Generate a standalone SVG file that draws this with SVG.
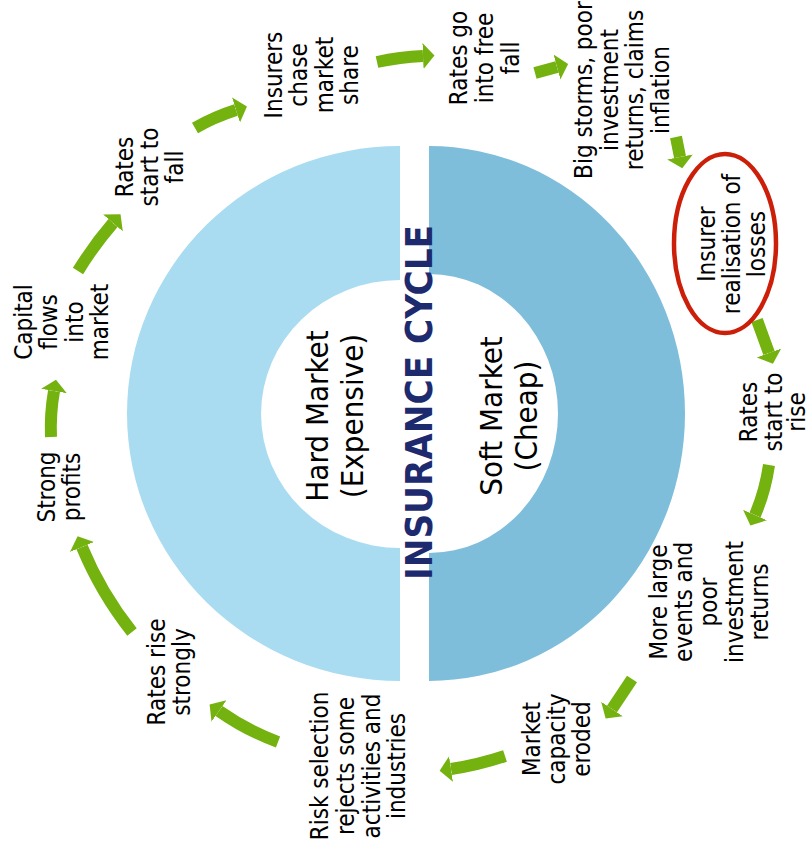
<svg xmlns="http://www.w3.org/2000/svg" width="810" height="848" viewBox="0 0 810 848">
<style>
.t{font-family:"DejaVu Sans Condensed","Liberation Sans",sans-serif;font-size:24px;fill:#000;text-anchor:middle}
.c{font-family:"DejaVu Sans Condensed","Liberation Sans",sans-serif;font-size:31px;fill:#000;text-anchor:middle}
.ttl{font-family:"DejaVu Sans Condensed","Liberation Sans",sans-serif;font-size:38px;font-weight:bold;fill:#1E2A6E;text-anchor:middle}
.a{fill:none;stroke:#74B20F;stroke-width:12;marker-end:url(#h)}
</style>
<defs>
<marker id="h" markerUnits="userSpaceOnUse" markerWidth="12" markerHeight="28" refX="0" refY="14" orient="auto">
<path d="M0,1 L11.5,14 L0,27 Z" fill="#74B20F"/>
</marker>
</defs>
<rect width="810" height="848" fill="#fff"/>
<g id="hard-half"><path d="M400,146 A273,267.5 0 0 0 400,681 L400,548 A139,134 0 0 1 400,280 Z" fill="#A9DCF1"/></g>
<g id="soft-half"><path d="M429,146 A256,267.5 0 0 1 429,681 L429,553 A129,139.5 0 0 0 429,274 Z" fill="#7FBEDB"/></g>
<g id="title"><text class="ttl" transform="translate(432,402.5) rotate(-90)" textLength="355" lengthAdjust="spacingAndGlyphs">INSURANCE CYCLE</text></g>
<g id="hard-label"><text class="c" transform="translate(328,416) rotate(-90)"><tspan x="0" y="0">Hard Market</tspan><tspan x="0" y="35">(Expensive)</tspan></text></g>
<g id="soft-label"><text class="c" transform="translate(502,416) rotate(-90)"><tspan x="0" y="0">Soft Market</tspan><tspan x="0" y="35">(Cheap)</tspan></text></g>
<g id="connectors">
<path class="a" d="M51,437 Q50,414 54,391"/>
<path class="a" d="M78,271 Q94,245 113,223"/>
<path class="a" d="M195,128 Q214,117 236,110"/>
<path class="a" d="M377,62 Q400,57 423,56"/>
<path class="a" d="M535,73 L557,67"/>
<path class="a" d="M676,137 L680,157"/>
<path class="a" d="M757,320 L769,353"/>
<path class="a" d="M769,465 Q765,492 755,515"/>
<path class="a" d="M632,679 L612,709"/>
<path class="a" d="M505,756 Q478,765 451,769"/>
<path class="a" d="M278,742 Q246,730 219,711"/>
<path class="a" d="M132,632 Q101,593 82,547"/>
</g>
<g id="n-capital"><text class="t" transform="translate(32,322) rotate(-90)"><tspan x="0" y="0">Capital</tspan><tspan x="0" y="25">flows</tspan><tspan x="0" y="50.5">into</tspan><tspan x="0" y="76">market</tspan></text></g>
<g id="n-rates-fall"><text class="t" transform="translate(133,167) rotate(-90)"><tspan x="0" y="0">Rates</tspan><tspan x="0" y="25">start to</tspan><tspan x="0" y="50">fall</tspan></text></g>
<g id="n-insurers-chase"><text class="t" transform="translate(282,75) rotate(-90)"><tspan x="0" y="0">Insurers</tspan><tspan x="0" y="25">chase</tspan><tspan x="0" y="50.5">market</tspan><tspan x="0" y="76">share</tspan></text></g>
<g id="n-free-fall"><text class="t" transform="translate(467,58) rotate(-90)"><tspan x="0" y="0">Rates go</tspan><tspan x="0" y="26">into free</tspan><tspan x="0" y="52">fall</tspan></text></g>
<g id="n-storms"><text class="t" transform="translate(592,90) rotate(-90)"><tspan x="0" y="0">Big storms, poor</tspan><tspan x="0" y="26">investment</tspan><tspan x="0" y="51">returns, claims</tspan><tspan x="0" y="77">inflation</tspan></text></g>
<g id="n-losses"><ellipse cx="725" cy="243.5" rx="51" ry="89.5" fill="none" stroke="#CC1F0A" stroke-width="4.5"/><text class="t" transform="translate(715,244) rotate(-90)"><tspan x="0" y="0">Insurer</tspan><tspan x="0" y="25">realisation of</tspan><tspan x="0" y="50">losses</tspan></text></g>
<g id="n-rates-rise"><text class="t" transform="translate(757,412) rotate(-90)"><tspan x="0" y="0">Rates</tspan><tspan x="0" y="24.5">start to</tspan><tspan x="0" y="48">rise</tspan></text></g>
<g id="n-large-events"><text class="t" transform="translate(667,602) rotate(-90)"><tspan x="0" y="0">More large</tspan><tspan x="0" y="25">events and</tspan><tspan x="0" y="50">poor</tspan><tspan x="0" y="76">investment</tspan><tspan x="0" y="101">returns</tspan></text></g>
<g id="n-capacity"><text class="t" transform="translate(540,739) rotate(-90)"><tspan x="0" y="0">Market</tspan><tspan x="0" y="25">capacity</tspan><tspan x="0" y="50">eroded</tspan></text></g>
<g id="n-risk-selection"><text class="t" transform="translate(328,766) rotate(-90)"><tspan x="0" y="0">Risk selection</tspan><tspan x="0" y="25.5">rejects some</tspan><tspan x="0" y="51.5">activities and</tspan><tspan x="0" y="77">industries</tspan></text></g>
<g id="n-rates-strongly"><text class="t" transform="translate(165,672) rotate(-90)"><tspan x="0" y="0">Rates rise</tspan><tspan x="0" y="25">strongly</tspan></text></g>
<g id="n-strong-profits"><text class="t" transform="translate(55,487) rotate(-90)"><tspan x="0" y="0">Strong</tspan><tspan x="0" y="25">profits</tspan></text></g>
</svg>
